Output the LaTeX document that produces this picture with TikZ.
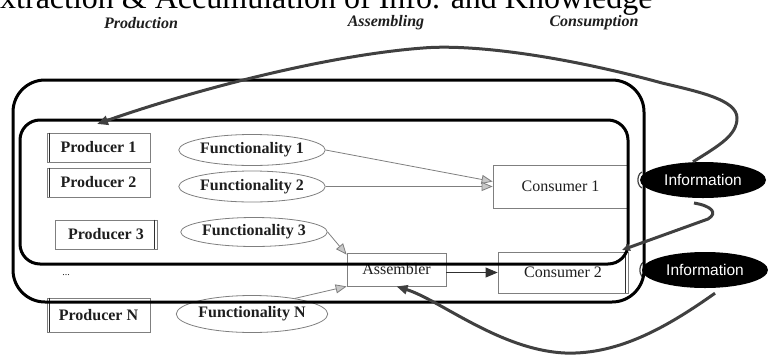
\documentclass[tikz,border=0pt]{standalone}
\usepackage{fontspec}
\setmainfont{Liberation Serif}
\newfontfamily\infofont{Liberation Sans}
\usetikzlibrary{arrows.meta,shapes.geometric}

\definecolor{boxline}{HTML}{7F7F7F}
\definecolor{edgeline}{HTML}{303030}
\definecolor{feedback}{HTML}{404040}
\definecolor{tipfill}{HTML}{C8C8C8}
\definecolor{textdark}{HTML}{1E1E1E}

\begin{document}
\begin{tikzpicture}[x=1pt,y=-1pt,
  prodbox/.style={draw=boxline, line width=0.8pt, minimum width=103pt, minimum height=29pt,
    inner sep=0pt, text=textdark, font=\bfseries\fontsize{16}{16}\selectfont},
  funcell/.style={ellipse, draw=boxline, line width=0.8pt, minimum width=125pt, minimum height=31pt,
    inner sep=0pt, text=textdark, font=\bfseries\fontsize{16}{16}\selectfont},
  conbox/.style={draw=boxline, line width=0.8pt, inner sep=0pt, text=textdark,
    font=\fontsize{16}{16}\selectfont},
  infoell/.style={ellipse, fill=black, minimum width=126pt, minimum height=36pt, inner sep=0pt,
    text=white, font=\infofont\fontsize{15.5}{15.5}\selectfont},
  header/.style={text=textdark, font=\bfseries\itshape\fontsize{16}{16}\selectfont},
  edge2/.style={draw=edgeline, line width=1.2pt},
  rim/.style={draw=feedback, line width=1.2pt},
  frame/.style={draw=black, line width=3pt},
  feed/.style={draw=feedback, line width=3pt, -{Triangle[length=11pt,width=9pt]}},
  flow/.style={draw=boxline, line width=0.8pt, -{Triangle[length=11pt,width=9pt,fill=tipfill]}},
  assemflow/.style={draw=edgeline, line width=0.9pt, -{Triangle[length=12pt,width=10pt]}}
]
\useasboundingbox (0,0) rectangle (768,354);
\clip (0,0) rectangle (768,354);

% title and column headings
\node[anchor=base west, inner sep=0pt, font=\fontsize{32}{32}\selectfont] (title) at (0,8)
  {xtraction \& Accumulation of Info. and Knowledge};
\node[header] (hprod) at (141,23) {Production};
\node[header] (hasm) at (386,23) {Assembling};
\node[header] (hcon) at (594,23) {Consumption};

% producers
\node[prodbox] (p1) at (98.5,147.5) {Producer 1};
\node[prodbox] (p2) at (98.5,182.5) {Producer 2};
\node[prodbox, minimum width=102pt] (p3) at (106,234.5) {Producer 3};
\node[prodbox, minimum height=34pt] (pn) at (98.5,315) {Producer N};
\draw[edge2] ([xshift=3pt]p1.north west) -- ([xshift=3pt]p1.south west);
\draw[edge2] ([xshift=3pt]p2.north west) -- ([xshift=3pt]p2.south west);
\draw[edge2] ([xshift=-3pt]p3.north east) -- ([xshift=-3pt]p3.south east);
\draw[edge2] ([xshift=3pt]pn.north west) -- ([xshift=3pt]pn.south west);
\node[text=textdark, font=\fontsize{10}{10}\selectfont] (dots) at (66,275) {...};

% functionalities
\node[funcell] (f1) at (252,150) {Functionality 1};
\node[funcell] (f2) at (252,186.5) {Functionality 2};
\node[funcell, minimum height=29pt] (f3) at (254,232) {Functionality 3};
\node[funcell, minimum width=129pt, minimum height=37pt] (fn) at (252,314) {Functionality N};

% assembler and consumers
\node[conbox, minimum width=99pt, minimum height=33pt] (asm) at (396.5,269.5) {Assembler};
\node[conbox, minimum width=135pt, minimum height=43pt] (c1) at (560.5,186.5) {Consumer 1};
\node[conbox, minimum width=130pt, minimum height=41pt] (c2) at (563,272.5) {Consumer 2};
\draw[edge2] ([xshift=-3pt]c2.north east) -- ([xshift=-3pt]c2.south east);

% information sources, each with a thin rim on its left side
\node[infoell] (info1) at (703,180) {Information};
\node[infoell] (info2) at (705,270) {Information};
\draw[rim] ([shift={(2,-8)}]info1.west) arc[start angle=110, end angle=250, x radius=6pt, y radius=8.5pt];
\draw[rim] ([shift={(2,-8)}]info2.west) arc[start angle=110, end angle=250, x radius=6pt, y radius=8.5pt];

% flows into consumers and the assembler
\draw[flow] (f1.east) -- ([yshift=5pt]c1.west);
\draw[flow] (f2.east) -- (c1.west |- f2.east);
\draw[flow] (f3.east) -- ([yshift=-2pt]asm.north west);
\draw[flow] (fn.20) -- (asm.south west);
\draw[assemflow] (asm.east |- c2.west) -- (c2.west);

% nested frames
\draw[frame, rounded corners=32pt] (13,80) rectangle (644,302);
\draw[frame, rounded corners=20pt] (20,120) rectangle (628,264);

% feedback of information
\coordinate (fbin) at (97,124);
\coordinate (hookstart) at (694,203);
\coordinate (hookend) at (622,250);
\draw[feed] ([xshift=-10pt]info1.north) .. controls (720,145) and (737,135) .. (737,118)
  .. controls (737,100) and (700,92) .. (662,83)
  .. controls (560,55) and (470,44) .. (423,48)
  .. controls (330,55) and (200,88) .. (fbin);
\draw[feed, -{Triangle[length=8pt,width=7pt]}] (hookstart) .. controls (712,206) and (718,213) .. (708,219) -- (hookend);
\draw[feed] ([shift={(10,5)}]info2.south) .. controls (670,325) and (620,355) .. (565,353)
  .. controls (500,350) and (440,300) .. (asm.south);
\end{tikzpicture}
\end{document}
